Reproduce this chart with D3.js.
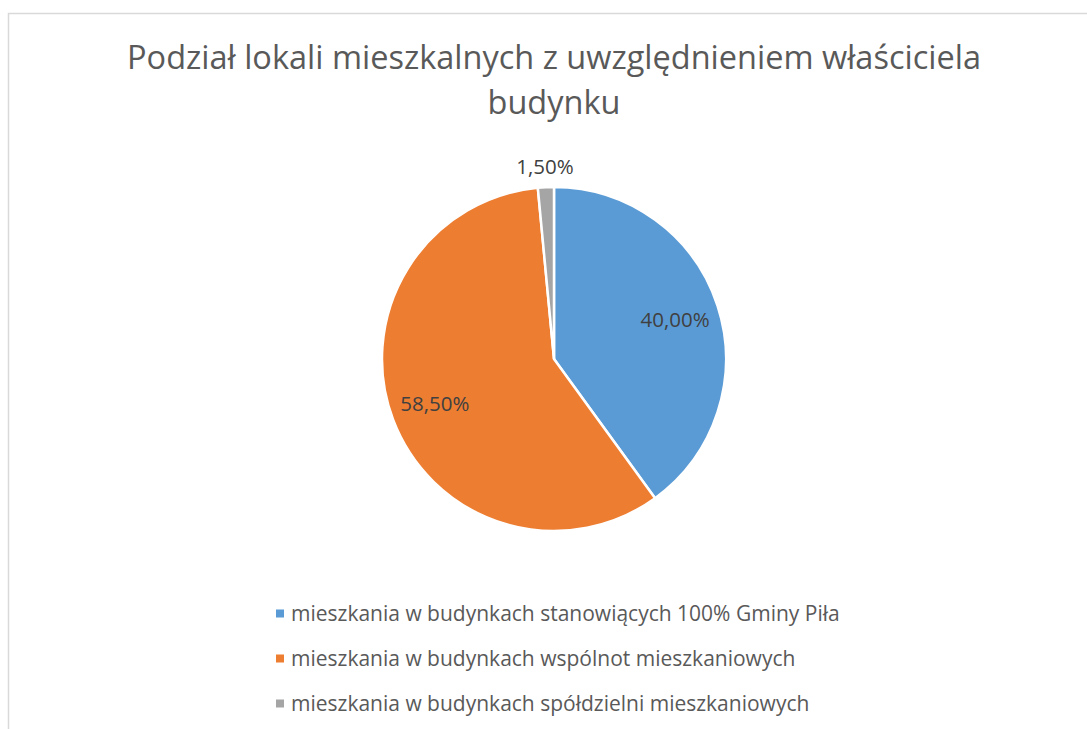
<!DOCTYPE html>
<html>
<head>
<meta charset="utf-8">
<script src="https://cdn.jsdelivr.net/npm/d3@7"></script>
<style>
  body { margin: 0; background: #fff; }
  text { font-family: "Open Sans", sans-serif; }
</style>
</head>
<body>
<div id="chart"></div>
<script>
// pie chart data
const categories = [
  "mieszkania w budynkach stanowiących 100% Gminy Piła",
  "mieszkania w budynkach wspólnot mieszkaniowych",
  "mieszkania w budynkach spółdzielni mieszkaniowych"
];
const values = [40.0, 58.5, 1.5];
const valueLabels = ["40,00%", "58,50%", "1,50%"];
const colors = ["#5b9bd5", "#ed7d31", "#a5a5a5"];
const titleLines = ["Podział lokali mieszkalnych z uwzględnieniem właściciela", "budynku"];

const width = 1087, height = 729;
const cx = 554, cy = 359, r = 172;

const svg = d3.select("#chart")
  .append("svg")
  .attr("width", width)
  .attr("height", height);

// chart frame (right and bottom edges are off the page)
svg.append("rect")
  .attr("x", 8.5).attr("y", 13.5)
  .attr("width", 1100).attr("height", 800)
  .attr("fill", "none")
  .attr("stroke", "#d9d9d9")
  .attr("stroke-width", 1.5);

// title
svg.append("g")
  .selectAll("text")
  .data(titleLines)
  .join("text")
  .attr("x", cx)
  .attr("y", (d, i) => 69 + i * 45)
  .attr("text-anchor", "middle")
  .attr("font-size", 32.5)
  .attr("fill", "#595959")
  .text(d => d);

const pie = d3.pie().sort(null).value(d => d);
const arcs = pie(values);
const arc = d3.arc().innerRadius(0).outerRadius(r);

const g = svg.append("g").attr("transform", `translate(${cx},${cy})`);

g.selectAll("path")
  .data(arcs)
  .join("path")
  .attr("d", arc)
  .attr("fill", (d, i) => colors[i])
  .attr("stroke", "#fff")
  .attr("stroke-width", 2.5);

// data labels: inside for big slices, outside for the small one
const inner = d3.arc().innerRadius(r * 0.74).outerRadius(r * 0.74);
const outer = d3.arc().innerRadius(r + 20).outerRadius(r + 20);

g.selectAll(".lbl")
  .data(arcs)
  .join("text")
  .attr("class", "lbl")
  .attr("transform", d => `translate(${(d.data < 5 ? outer : inner).centroid(d)})`)
  .attr("text-anchor", "middle")
  .attr("dy", "0.35em")
  .attr("font-size", 20.5)
  .attr("fill", "#404040")
  .text((d, i) => valueLabels[i]);

// legend
const legend = svg.append("g")
  .selectAll("g")
  .data(categories)
  .join("g")
  .attr("transform", (d, i) => `translate(276,${613.5 + i * 45})`);

legend.append("rect")
  .attr("x", 0).attr("y", -4)
  .attr("width", 8).attr("height", 8)
  .attr("fill", (d, i) => colors[i]);

legend.append("text")
  .attr("x", 15)
  .attr("dy", "0.35em")
  .attr("font-size", 21)
  .attr("fill", "#595959")
  .text(d => d);
</script>
</body>
</html>
